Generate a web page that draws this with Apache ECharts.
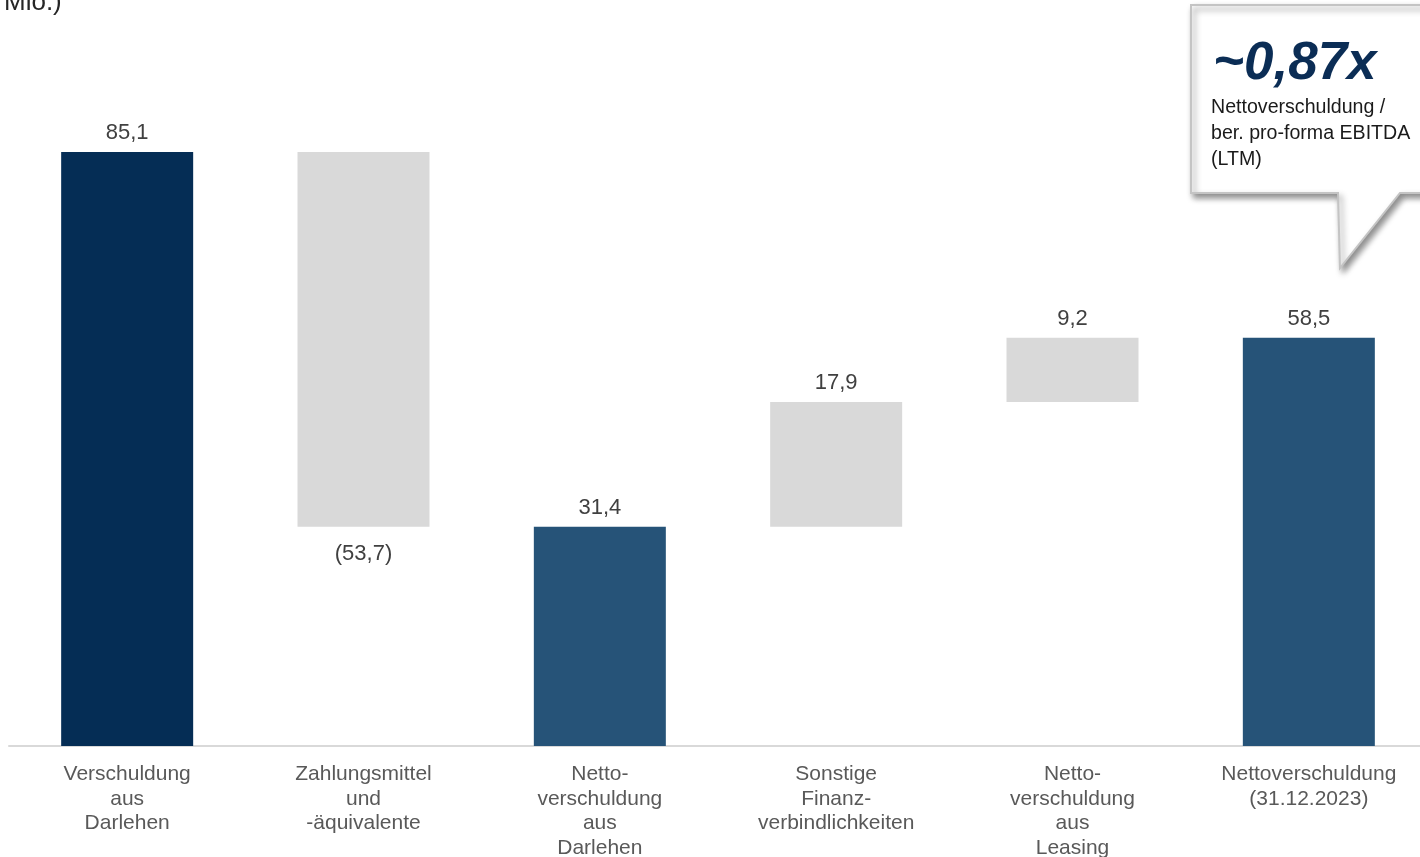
<!DOCTYPE html>
<html><head><meta charset="utf-8">
<script src="https://cdn.jsdelivr.net/npm/echarts@6/dist/echarts.min.js"></script>
<style>html,body{margin:0;padding:0;background:#fff;overflow:hidden;width:1420px;height:857px}#c{width:1428px;height:857px}</style>
</head><body><div id="c"></div>
<script>
const categories = ['Verschuldung\naus\nDarlehen','Zahlungsmittel\nund\n-äquivalente','Netto-\nverschuldung\naus\nDarlehen','Sonstige\nFinanz-\nverbindlichkeiten','Netto-\nverschuldung\naus\nLeasing','Nettoverschuldung\n(31.12.2023)'];
const values = [85.1, -53.7, 31.4, 17.9, 9.2, 58.5];
const kinds = ['total','delta','total','delta','delta','total'];
const colors = ['#052D55','#D9D9D9','#265378','#D9D9D9','#D9D9D9','#265378'];
const ratioText = '~0,87x';
const ratioDesc = 'Nettoverschuldung /\nber. pro-forma EBITDA\n(LTM)';

const FONT = '"Liberation Sans", Arial, sans-serif';
let running = 0;
const base = [], vis = [];
values.forEach((v,i)=>{
  if (kinds[i]==='total'){ base.push(0); vis.push(v); running = v; }
  else if (v>=0){ base.push(running); vis.push(v); running += v; }
  else { running += v; base.push(running); vis.push(-v); }
});
const fmt = v => v.toFixed(1).replace('.',',');
const chart = echarts.init(document.getElementById('c'));
chart.setOption({
  animation:false,
  grid:{left:9,right:1,top:48,bottom:111,containLabel:false,outerBoundsMode:'none'},
  xAxis:{type:'category',data:categories,
    axisLine:{lineStyle:{color:'#D9D9D9',width:2}},axisTick:{show:false},
    axisLabel:{interval:0,color:'#595959',fontFamily:FONT,fontSize:21,lineHeight:24.5,margin:16}},
  yAxis:{type:'value',min:0,max:100,show:false,splitLine:{show:false}},
  series:[
    {type:'bar',stack:'w',data:base,barWidth:132,itemStyle:{color:'transparent'},silent:true},
    {type:'bar',stack:'w',barWidth:132,
      data:vis.map((v,i)=>({value:v,itemStyle:{color:colors[i]},
        label:{show:true,position:values[i]<0?'bottom':'top',distance:values[i]<0?16:8,
          formatter: values[i]<0?'('+fmt(-values[i])+')':fmt(values[i]),
          color:'#404040',fontFamily:FONT,fontSize:22}}))}
  ],
  graphic:[
    {type:'text',left:4,top:-10,style:{text:'Mio.)',font:'26px '+FONT,fill:'#262626'}},
    {type:'polygon',shape:{points:[[1191,5],[1440,5],[1440,193],[1400,193],[1340,268],[1338,193],[1191,193]]},
      style:{fill:'#fff',stroke:'#C4C4C4',lineWidth:2,shadowBlur:6,shadowOffsetX:3,shadowOffsetY:4,shadowColor:'rgba(0,0,0,0.45)'},z:10},
    {type:'text',x:1213,y:38,z:11,style:{text:ratioText,font:'italic bold 53px '+FONT,fill:'#0B2D55'}},
    {type:'text',x:1211,y:95,z:11,style:{text:ratioDesc,font:'19.6px '+FONT,fill:'#1A1A1A',lineHeight:26}}
  ]
});
</script></body></html>
